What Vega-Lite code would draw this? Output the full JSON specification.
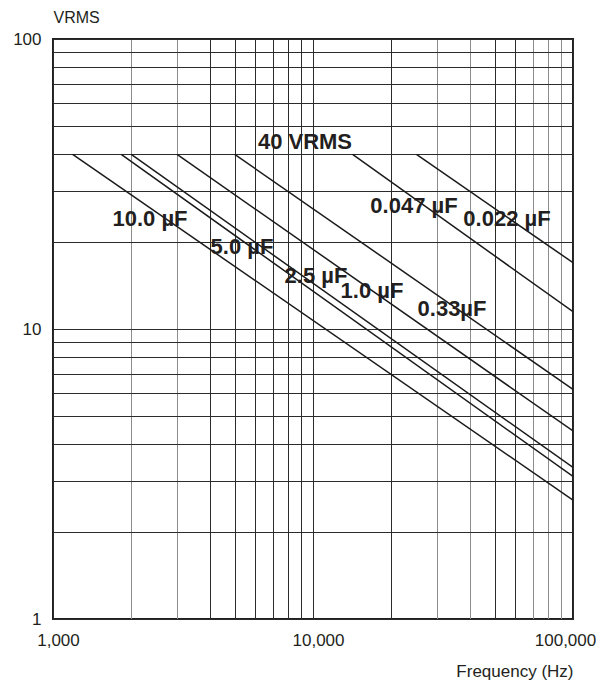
{
  "$schema": "https://vega.github.io/schema/vega-lite/v6.json",
  "width": 520,
  "height": 580,
  "autosize": {"type": "none"},
  "padding": {"left": 53, "top": 39, "right": 26, "bottom": 67},
  "background": "white",
  "config": {
    "view": {"stroke": "#231f20", "strokeWidth": 2},
    "font": "Liberation Sans, Arial, sans-serif"
  },
  "datasets": {
    "curves": [
      {"cap": "10.0", "f": 1190, "v": 40}, {"cap": "10.0", "f": 100000, "v": 2.57},
      {"cap": "5.0", "f": 1830, "v": 40}, {"cap": "5.0", "f": 100000, "v": 3.1},
      {"cap": "2.5", "f": 2000, "v": 40}, {"cap": "2.5", "f": 100000, "v": 3.33},
      {"cap": "1.0", "f": 3000, "v": 40}, {"cap": "1.0", "f": 100000, "v": 4.45},
      {"cap": "0.33", "f": 5000, "v": 40}, {"cap": "0.33", "f": 100000, "v": 6.19},
      {"cap": "0.047", "f": 14200, "v": 40}, {"cap": "0.047", "f": 100000, "v": 11.47},
      {"cap": "0.022", "f": 25000, "v": 40}, {"cap": "0.022", "f": 100000, "v": 16.93}
    ],
    "labels": [
      {"label": "40 VRMS", "f": 9314, "v": 44.1},
      {"label": "10.0 µF", "f": 2361, "v": 23.9},
      {"label": "5.0 µF", "f": 5333, "v": 19.17},
      {"label": "2.5 µF", "f": 10270, "v": 15.23},
      {"label": "1.0 µF", "f": 16860, "v": 13.52},
      {"label": "0.33µF", "f": 34250, "v": 11.72},
      {"label": "0.047 µF", "f": 24460, "v": 26.55},
      {"label": "0.022 µF", "f": 55720, "v": 23.9}
    ]
  },
  "layer": [
    {
      "data": {"name": "curves"},
      "mark": {"type": "line", "color": "#1a1a1a", "strokeWidth": 1.5, "clip": true},
      "encoding": {
        "x": {
          "field": "f", "type": "quantitative",
          "scale": {"type": "log", "domain": [1000, 100000], "nice": false},
          "axis": {
            "values": [1000, 2000, 3000, 4000, 5000, 6000, 7000, 8000, 9000, 10000, 20000, 30000, 40000, 50000, 60000, 70000, 80000, 90000, 100000],
            "labelExpr": "indexof([1000, 10000, 100000], datum.value) >= 0 ? format(datum.value, ',') : ''",
            "ticks": false,
            "domain": false,
            "grid": true,
            "gridColor": {"condition": {"test": "indexof([2000, 3000, 30000, 40000, 70000, 80000, 90000], datum.value) >= 0", "value": "#8c8c8c"}, "value": "#2b2b2b"},
            "gridWidth": 1,
            "labelFontSize": 17,
            "labelColor": "#231f20",
            "labelBaseline": "alphabetic",
            "labelPadding": 26,
            "labelOverlap": false,
            "labelFlush": false,
            "labelOffset": {"condition": {"test": "datum.value == 100000", "value": -8}, "value": 5},
            "title": "Frequency (Hz)",
            "titleFontSize": 17,
            "titleFontWeight": "normal",
            "titleColor": "#231f20",
            "titleX": 520,
            "titleY": 57,
            "titleAlign": "right",
            "titleAnchor": "end",
            "titleBaseline": "alphabetic"
          }
        },
        "y": {
          "field": "v", "type": "quantitative",
          "scale": {"type": "log", "domain": [1, 100], "nice": false},
          "axis": {
            "values": [1, 2, 3, 4, 5, 6, 7, 8, 9, 10, 20, 30, 40, 50, 60, 70, 80, 90, 100],
            "labelExpr": "indexof([1, 10, 100], datum.value) >= 0 ? format(datum.value, ',') : ''",
            "ticks": false,
            "domain": false,
            "grid": true,
            "gridColor": "#2b2b2b",
            "gridWidth": 1,
            "labelFontSize": 17,
            "labelColor": "#231f20",
            "labelPadding": 12,
            "labelOverlap": false,
            "labelFlush": false,
            "title": "VRMS",
            "titleFontSize": 16,
            "titleFontWeight": "normal",
            "titleColor": "#231f20",
            "titleAngle": 0,
            "titleX": 0,
            "titleY": -17,
            "titleAlign": "left",
            "titleBaseline": "alphabetic"
          }
        },
        "detail": {"field": "cap"}
      }
    },
    {
      "data": {"name": "labels"},
      "mark": {"type": "text", "fontWeight": "bold", "fontSize": 22, "color": "#231f20", "align": "center", "baseline": "middle"},
      "encoding": {
        "x": {"field": "f", "type": "quantitative"},
        "y": {"field": "v", "type": "quantitative"},
        "text": {"field": "label"}
      }
    }
  ]
}
